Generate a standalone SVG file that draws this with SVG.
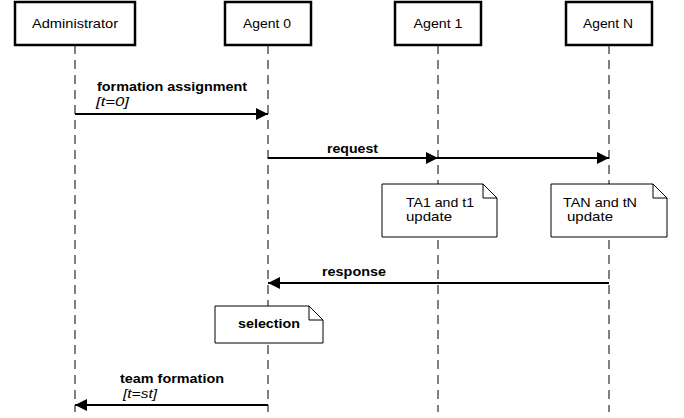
<svg xmlns="http://www.w3.org/2000/svg" width="684" height="418" viewBox="0 0 684 418">
<defs>
<style>
.box{fill:#fff;stroke:#000;stroke-width:2.5}
.life{stroke:#000;stroke-width:1;stroke-dasharray:9,6;fill:none}
.msg{stroke:#000;stroke-width:2;fill:none}
.note{fill:#fff;stroke:#000;stroke-width:1}
text{font-family:"Liberation Sans",Arial,sans-serif;font-size:13px;fill:#000}
.b{font-weight:bold}
.i{font-style:italic}
</style>
<marker id="ah" markerWidth="12" markerHeight="12" refX="12" refY="6" orient="auto" markerUnits="userSpaceOnUse">
<path d="M0,0 L12,6 L0,12 Z" fill="#000"/>
</marker>
</defs>
<g id="lifelines">
<line class="life" x1="75" y1="45" x2="75" y2="412"/>
<line class="life" x1="268" y1="45" x2="268" y2="412"/>
<line class="life" x1="438" y1="45" x2="438" y2="412"/>
<line class="life" x1="609" y1="45" x2="609" y2="412"/>
</g>
<g id="administrator">
<rect class="box" x="15" y="2" width="120" height="43"/>
<text x="75" y="28" text-anchor="middle" textLength="86" lengthAdjust="spacingAndGlyphs">Administrator</text>
</g>
<g id="agent0">
<rect class="box" x="225" y="2" width="86" height="43"/>
<text x="267" y="28" text-anchor="middle" textLength="48" lengthAdjust="spacingAndGlyphs">Agent 0</text>
</g>
<g id="agent1">
<rect class="box" x="395" y="2" width="86" height="43"/>
<text x="438" y="28" text-anchor="middle" textLength="49" lengthAdjust="spacingAndGlyphs">Agent 1</text>
</g>
<g id="agentN">
<rect class="box" x="566" y="2" width="86" height="43"/>
<text x="608" y="28" text-anchor="middle" textLength="50" lengthAdjust="spacingAndGlyphs">Agent N</text>
</g>
<g id="note-ta1">
<path class="note" d="M382,184 H483 L497,198 V237 H382 Z M483,184 V198 H497"/>
<text x="406" y="207" textLength="68" lengthAdjust="spacingAndGlyphs">TA1 and t1</text>
<text x="406" y="221" textLength="46" lengthAdjust="spacingAndGlyphs">update</text>
</g>
<g id="note-tan">
<path class="note" d="M551,184 H653 L667,198 V237 H551 Z M653,184 V198 H667"/>
<text x="563" y="207" textLength="74" lengthAdjust="spacingAndGlyphs">TAN and tN</text>
<text x="567" y="221" textLength="46" lengthAdjust="spacingAndGlyphs">update</text>
</g>
<g id="note-selection">
<path class="note" d="M215,306 H309 L323,320 V343 H215 Z M309,306 V320 H323"/>
<text class="b" x="238" y="328" textLength="62" lengthAdjust="spacingAndGlyphs">selection</text>
</g>
<g id="connectors">
<line class="msg" x1="75" y1="114" x2="268" y2="114" marker-end="url(#ah)"/>
<line class="msg" x1="268" y1="158" x2="438" y2="158" marker-end="url(#ah)"/>
<line class="msg" x1="438" y1="158" x2="609" y2="158" marker-end="url(#ah)"/>
<line class="msg" x1="609" y1="283" x2="268" y2="283" marker-end="url(#ah)"/>
<line class="msg" x1="268" y1="405" x2="75" y2="405" marker-end="url(#ah)"/>
<text class="b" x="97" y="91" textLength="150" lengthAdjust="spacingAndGlyphs">formation assignment</text>
<text class="i" x="96" y="106" textLength="33" lengthAdjust="spacingAndGlyphs">[t=0]</text>
<text class="b" x="327" y="153" textLength="51" lengthAdjust="spacingAndGlyphs">request</text>
<text class="b" x="322" y="276" textLength="64" lengthAdjust="spacingAndGlyphs">response</text>
<text class="b" x="120" y="383" textLength="104" lengthAdjust="spacingAndGlyphs">team formation</text>
<text class="i" x="123" y="398" textLength="34" lengthAdjust="spacingAndGlyphs">[t=st]</text>
</g>
</svg>
